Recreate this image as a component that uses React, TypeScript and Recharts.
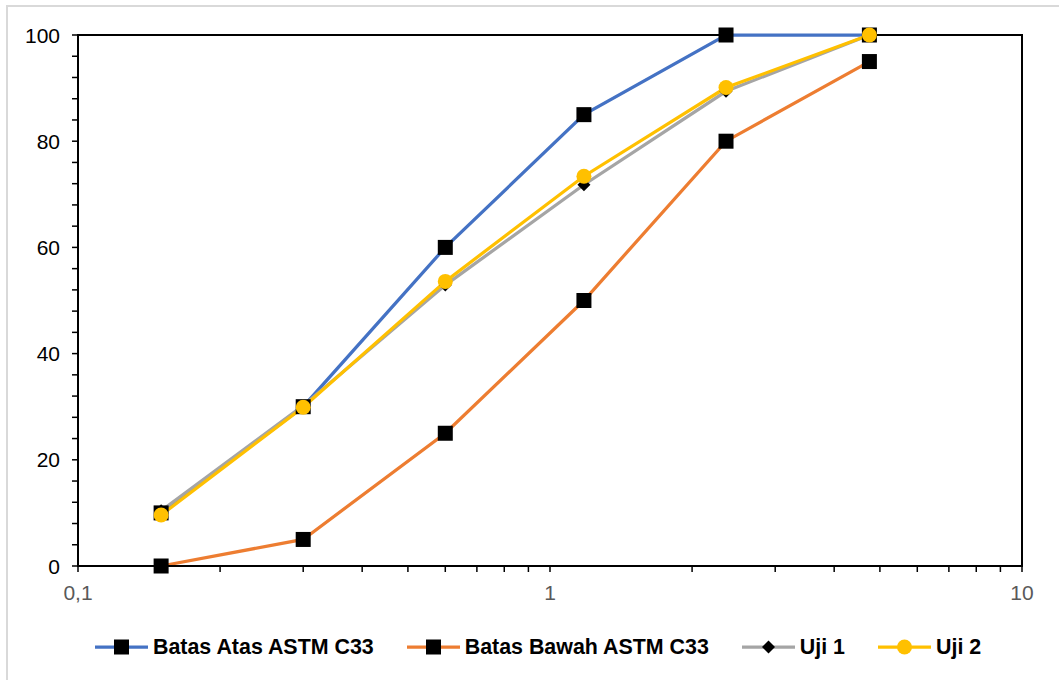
import React from "react";
import { LineChart, Line, XAxis, YAxis, ReferenceArea } from "recharts";

// ---- data ----
const sieveSizes = [0.15, 0.3, 0.6, 1.18, 2.36, 4.75];
const batasAtas = [10, 30, 60, 85, 100, 100];
const batasBawah = [0, 5, 25, 50, 80, 95];
const uji1 = [10.4, 30.2, 52.9, 71.8, 89.4, 100];
const uji2 = [9.6, 29.9, 53.6, 73.4, 90.1, 100];

const xTicks = [0.1, 0.2, 0.3, 0.4, 0.5, 0.6, 0.7, 0.8, 0.9, 1, 2, 3, 4, 5, 6, 7, 8, 9, 10];
const xMajorTicks = [0.1, 1, 10];
const xTickLabels = ["0,1", "1", "10"];
const yTicks = [0, 4, 8, 12, 16, 20, 24, 28, 32, 36, 40, 44, 48, 52, 56, 60, 64, 68, 72, 76, 80, 84, 88, 92, 96, 100];
const yMajorTicks = [0, 20, 40, 60, 80, 100];

const seriesNames = ["Batas Atas ASTM C33", "Batas Bawah ASTM C33", "Uji 1", "Uji 2"];
const seriesValues = [batasAtas, batasBawah, uji1, uji2];

const build = (vals: number[]) => sieveSizes.map((x, i) => ({ x, y: vals[i] }));

const COLORS = ["#4472C4", "#ED7D31", "#A5A5A5", "#FFC000"];
const MARKERS = ["square", "square", "diamond", "circle"];
const FONT = "'Liberation Sans', Arial, sans-serif";

const Marker = ({ kind, cx, cy, color }: { kind: string; cx: number; cy: number; color: string }) => {
  if (cx == null || cy == null) return null;
  if (kind === "square") return <rect x={cx - 7.5} y={cy - 7.5} width={15} height={15} fill="#000" />;
  if (kind === "diamond")
    return <polygon points={`${cx},${cy - 6.5} ${cx + 6.5},${cy} ${cx},${cy + 6.5} ${cx - 6.5},${cy}`} fill="#000" />;
  return <circle cx={cx} cy={cy} r={7.5} fill={color} />;
};

const makeDot = (kind: string, color: string) => (props: any) => (
  <Marker key={`${kind}-${props.index}`} kind={kind} cx={props.cx} cy={props.cy} color={color} />
);

const XTick = (props: any) => {
  const { x, y, payload } = props;
  const idx = xMajorTicks.indexOf(payload.value);
  if (idx < 0) return <g />;
  return (
    <text x={x} y={y + 24} textAnchor="middle" fill="#595959" fontSize={21} fontFamily={FONT}>
      {xTickLabels[idx]}
    </text>
  );
};

const YTick = (props: any) => {
  const { x, y, payload } = props;
  if (yMajorTicks.indexOf(payload.value) < 0) return <g />;
  return (
    <text x={x} y={y + 7.5} textAnchor="end" fill="#000" fontSize={21} fontFamily={FONT}>
      {payload.value}
    </text>
  );
};

export default function App() {
  return (
    <div
      style={{
        position: "absolute",
        left: 0,
        top: 0,
        width: 1059,
        height: 680,
        overflow: "hidden",
        background: "#fff",
      }}
    >
      <div
        style={{
          position: "absolute",
          left: 6,
          top: 5,
          width: 1100,
          height: 700,
          borderLeft: "2px solid #D9D9D9",
          borderTop: "2px solid #D9D9D9",
        }}
      />
      <div style={{ position: "absolute", left: 0, top: 0 }}>
        <LineChart width={1059} height={680} margin={{ top: 35, right: 37, bottom: 0, left: 0 }}>
          <XAxis
            dataKey="x"
            type="number"
            scale="log"
            domain={[0.1, 10]}
            ticks={xTicks}
            interval={0}
            allowDataOverflow
            height={114}
            axisLine={{ stroke: "#000", strokeWidth: 2 }}
            tickLine={{ stroke: "#000", strokeWidth: 1.5 }}
            tickSize={6}
            tickMargin={4}
            tick={<XTick />}
          />
          <YAxis
            type="number"
            domain={[0, 100]}
            ticks={yTicks}
            interval={0}
            width={78}
            axisLine={{ stroke: "#000", strokeWidth: 2 }}
            tickLine={{ stroke: "#000", strokeWidth: 1.5 }}
            tickSize={6}
            tickMargin={12}
            tick={<YTick />}
          />
          <ReferenceArea
            x1={0.1}
            x2={10}
            y1={0}
            y2={100}
            fill="none"
            fillOpacity={0}
            stroke="#000"
            strokeWidth={2}
            ifOverflow="visible"
          />
          {seriesValues.map((vals, i) => (
            <Line
              key={seriesNames[i]}
              name={seriesNames[i]}
              data={build(vals)}
              dataKey="y"
              type="linear"
              stroke={COLORS[i]}
              strokeWidth={3.25}
              dot={makeDot(MARKERS[i], COLORS[i])}
              activeDot={false}
              isAnimationActive={false}
            />
          ))}
        </LineChart>
      </div>
      <div
        style={{
          position: "absolute",
          left: 95,
          top: 636,
          display: "flex",
          alignItems: "center",
          gap: 33,
          fontFamily: FONT,
          fontWeight: "bold",
          fontSize: 21.4,
          color: "#000",
          whiteSpace: "nowrap",
        }}
      >
        {seriesNames.map((name, i) => (
          <div key={name} style={{ display: "flex", alignItems: "center" }}>
            <svg width={53} height={22} style={{ display: "block" }}>
              <line x1={0} y1={11} x2={53} y2={11} stroke={COLORS[i]} strokeWidth={3.25} />
              <Marker kind={MARKERS[i]} cx={26.5} cy={11} color={COLORS[i]} />
            </svg>
            <span style={{ marginLeft: 5, lineHeight: "22px" }}>{name}</span>
          </div>
        ))}
      </div>
    </div>
  );
}
